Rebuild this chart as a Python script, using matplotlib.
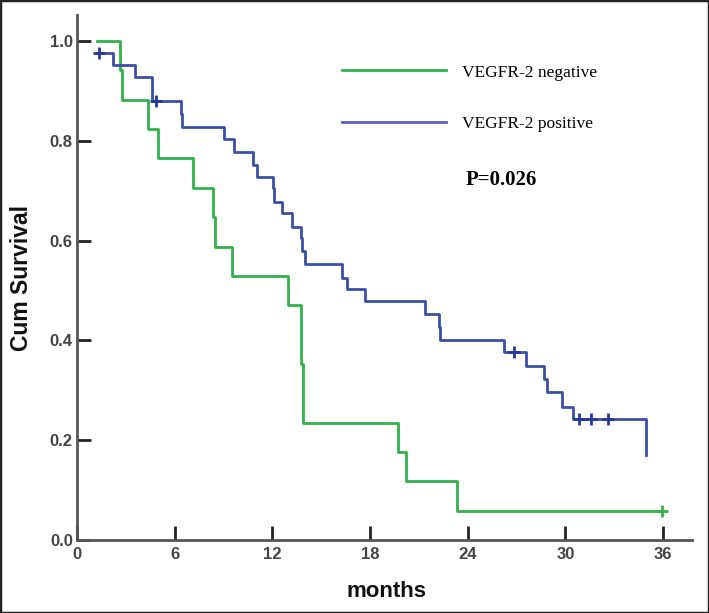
#courbes de survie Kaplan-Meier VEGFR-2
import numpy as np
import matplotlib
matplotlib.use("Agg")
import matplotlib.pyplot as plt
from matplotlib import font_manager
from matplotlib.lines import Line2D
from matplotlib.patches import Rectangle

############################### Données
labels = ["VEGFR-2 negative", "VEGFR-2 positive"]
p_text = "P=0.026"
x_ticks = [0, 6, 12, 18, 24, 30, 36]
y_ticks = [0.0, 0.2, 0.4, 0.6, 0.8, 1.0]

# VEGFR-2 negative (temps en mois, survie après chaque étape)
neg_t = [1.21, 2.65, 2.75, 4.34, 4.96, 7.11, 8.34, 8.48, 9.52, 12.95, 13.76, 13.86, 19.74, 20.23, 23.36, 35.92]
neg_s = [1.0, 0.941, 0.882, 0.824, 0.765, 0.706, 0.647, 0.588, 0.529, 0.471, 0.353, 0.235, 0.176, 0.118, 0.059, 0.059]
neg_cens = [35.92]

# VEGFR-2 positive
pos_t = [1.21, 2.19, 3.56, 4.63, 6.37, 6.43, 9.03, 9.64, 10.83, 11.04, 12.02, 12.10, 12.57, 13.19,
         13.74, 13.82, 14.00, 16.26, 16.57, 17.69, 21.38, 22.24, 22.30, 26.23, 27.56, 28.69, 28.85,
         29.81, 30.45, 34.95]
pos_s = [0.975, 0.952, 0.927, 0.880, 0.854, 0.828, 0.803, 0.778, 0.752, 0.728, 0.705, 0.678, 0.656, 0.628,
         0.605, 0.580, 0.553, 0.526, 0.502, 0.478, 0.452, 0.427, 0.401, 0.377, 0.349, 0.322, 0.297,
         0.266, 0.242, 0.170]
pos_cens = [1.37, 4.83, 26.84, 30.82, 31.55, 32.60]

green = "#33b14a"
blue = "#3a4fa5"

############################### Polices
noms = {f.name for f in font_manager.fontManager.ttflist}
police_ticks = "Liberation Sans Narrow" if "Liberation Sans Narrow" in noms else "Liberation Sans"


def survie_a(t, s, c):
    # valeur de la courbe en escalier au temps c
    i = np.searchsorted(np.array(t), c, side="right") - 1
    return np.array(s)[i]


fig = plt.figure(figsize=(7.09, 6.13), dpi=100)
ax = fig.add_axes([0.1086, 0.1191, 0.867, 0.8564])

ax.step(neg_t, neg_s, where="post", color=green, lw=2.0)
ax.step(pos_t, pos_s, where="post", color=blue, lw=2.0)
ax.plot(neg_cens, survie_a(neg_t, neg_s, neg_cens), "+", color=green, ms=9, mew=2)
ax.plot(pos_cens, survie_a(pos_t, pos_s, pos_cens), "+", color="#26389a", ms=9, mew=2)

ax.set_xlim(0, 37.76)
ax.set_ylim(0, 1.052)
ax.set_xticks(x_ticks)
ax.set_yticks(y_ticks)
ax.set_yticklabels([f"{v:.1f}" for v in y_ticks])

for s in ["top", "right"]:
    ax.spines[s].set_visible(False)
for s in ["left", "bottom"]:
    ax.spines[s].set_color("#555555")
    ax.spines[s].set_linewidth(2.0)

ax.tick_params(direction="in", length=10, width=2, color="#222222", labelcolor="#444444")
ax.tick_params(axis="x", pad=5)
ax.tick_params(axis="y", pad=3)
for lab in ax.get_xticklabels() + ax.get_yticklabels():
    lab.set_fontfamily(police_ticks)
    lab.set_fontsize(12)
    lab.set_fontweight("bold")

ax.set_xlabel("months", family="Liberation Sans", fontsize=16, fontweight="bold", color="#111111")
ax.xaxis.set_label_coords(0.5035, -0.078)
ax.set_ylabel("Cum Survival", family="Liberation Sans", fontsize=16.5, fontweight="bold", color="#111111")
ax.yaxis.set_label_coords(-0.072, 0.5)

# légende
poignees = [Line2D([], [], color=green, lw=2.0), Line2D([], [], color="#5a62b3", lw=2.0)]
ax.legend(poignees, labels, loc="upper left", bbox_to_anchor=(0.431, 0.906), frameon=False,
          prop={"family": "Liberation Serif", "size": 12.5}, handlelength=6.0,
          handletextpad=0.9, labelspacing=2.05, borderpad=0, borderaxespad=0)

ax.text(0.633, 0.686, p_text, transform=ax.transAxes, family="Liberation Serif",
        fontsize=15, fontweight="bold", va="center", ha="left")

# cadre autour de l'image
fig.patches.append(Rectangle((0, 0), 1, 1, transform=fig.transFigure, fill=False,
                             edgecolor="#222222", lw=2.5))

fig.savefig("out.png", dpi=100)
